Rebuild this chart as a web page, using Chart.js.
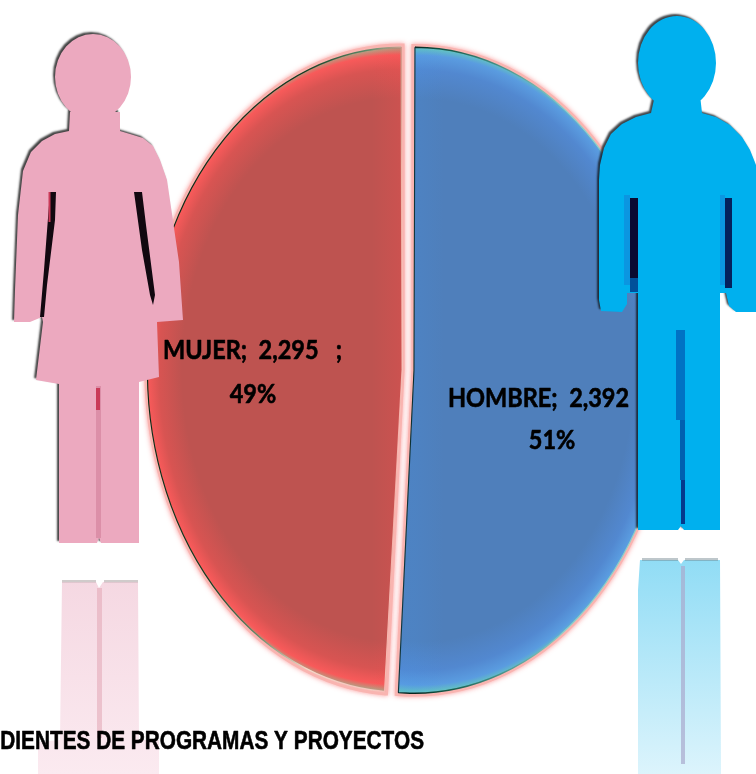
<!DOCTYPE html>
<html><head><meta charset="utf-8">
<style>html,body{margin:0;padding:0;background:#fff;overflow:hidden}canvas{display:block}</style>
<script src="https://cdn.jsdelivr.net/npm/chart.js@4"></script>
</head><body><canvas id="c" width="756" height="774"></canvas>
<script>
const categories = ['HOMBRE', 'MUJER'];
const values = [2392, 2295];
const valueLabels = ['2,392', '2,295'];
const percentLabels = ['51%', '49%'];
const captionText = 'DIENTES DE PROGRAMAS Y PROYECTOS';

const RX = 255, RY = 323, OFF = 32;
function radius(chart){ const a = chart.chartArea; return (Math.min(a.width, a.height) - OFF - 2) / 2; }
const ramps = [
  [[0,'#4f7fbb'],[0.84,'#4f7fbb'],[0.93,'#5288d0'],[0.975,'#5a9ce0'],[0.995,'#62c0c4'],[1,'#68c8b8']],
  [[0,'#be5350'],[0.84,'#be5350'],[0.93,'#d85452'],[0.975,'#f85a5a'],[0.993,'#b89a80'],[1,'#6a9a78']]
];
function sliceFill(ctx){
  const chart = ctx.chart, a = chart.chartArea, i = ctx.dataIndex;
  if (!a || i === undefined) return '#999';
  const R = radius(chart) + OFF/4, dir = i === 0 ? 1 : -1;
  const cx = (a.left + a.right)/2 + dir*OFF/4, cy = (a.top + a.bottom)/2;
  const g = chart.ctx.createRadialGradient(cx, cy, 0, cx, cy, R);
  ramps[i].forEach(s => g.addColorStop(s[0], s[1]));
  return g;
}
function sliceEdge(ctx){
  const chart = ctx.chart, a = chart.chartArea, i = ctx.dataIndex;
  if (!a || i === undefined) return '#264';
  const R = radius(chart) + OFF/4, cx=(a.left+a.right)/2, cy=(a.top+a.bottom)/2;
  const sx = RX/R, sy = RY/R;
  const px = (X)=>cx+(X-408)/sx, py=(Y)=>cy+(Y-370)/sy;
  let g;
  if (i === 1) {
    g = chart.ctx.createLinearGradient(px(200),py(170),px(430),py(240));
    g.addColorStop(0,'#0c2a16'); g.addColorStop(0.38,'#143c22'); g.addColorStop(0.62,'#5f8a68'); g.addColorStop(0.85,'#f2d9c8'); g.addColorStop(1,'#f6c9c0');
  } else {
    g = chart.ctx.createLinearGradient(px(412),0,px(560),0);
    g.addColorStop(0,'#06241c'); g.addColorStop(0.12,'#0e4a3a'); g.addColorStop(0.5,'#3f8a80'); g.addColorStop(1,'#8fd0c8');
  }
  return g;
}
function poly(c, pts){ c.moveTo(pts[0][0], pts[0][1]); for (let k=1;k<pts.length;k++) c.lineTo(pts[k][0], pts[k][1]); }
function arcPath(c, arc){
  const p = arc.getProps(['x','y','startAngle','endAngle','outerRadius']);
  const mid = (p.startAngle+p.endAngle)/2, o = OFF/4;
  const x = p.x+Math.cos(mid)*o, y = p.y+Math.sin(mid)*o;
  c.beginPath(); c.moveTo(x,y); c.arc(x,y,p.outerRadius+o,p.startAngle,p.endAngle); c.closePath();
  return {x,y,r:p.outerRadius+o};
}
function stretchText(c, text, x, y, sx){
  c.save(); c.translate(x,y); c.scale(sx,1);
  c.strokeStyle='#000'; c.lineWidth=0.6; c.lineJoin='round';
  c.strokeText(text,0,0); c.fillText(text,0,0); c.restore();
}

function drawWoman(c){
  c.save();
  c.shadowColor='rgba(20,20,20,.8)'; c.shadowOffsetX=-2; c.shadowOffsetY=-2; c.shadowBlur=2;
  c.fillStyle='#eca9bf';
  c.beginPath();
  c.ellipse(93,77,38,43,0,0,Math.PI*2,true); c.closePath();
  poly(c,[[70,112],[69,131],[55,134],[42,141],[31,152],[23,171],[18,215],[15,290],[14,322],[30,322],[42,317],[43,322],[36,380],[59,384],[59,543],[97,543],[99,538],[101,543],[139,543],[139,382],[159,377],[157,322],[183,320],[179,262],[167,180],[160,160],[153,146],[143,138],[130,134],[120,131],[120,112]]);
  c.closePath();
  c.fill();
  c.restore();
  // arm gaps
  c.fillStyle='#120810';
  c.beginPath(); poly(c,[[50,192],[56,192],[55,220],[47,285],[44,317],[40,317],[44,270]]); c.closePath(); c.fill();
  c.beginPath(); poly(c,[[134,192],[142,192],[146,225],[155,295],[153,305],[150,295],[142,250]]); c.closePath(); c.fill();
  c.fillStyle='#c93a58'; c.fillRect(48.5,192,2,30);
  // leg split
  c.fillStyle='#dc8fa8'; c.fillRect(96,386,5,152);
  c.fillStyle='#c93a58'; c.fillRect(96,388,4,22);
  // reflection
  const g=c.createLinearGradient(0,580,0,774);
  g.addColorStop(0,'#f5d8e2'); g.addColorStop(1,'#fbeaf0');
  c.fillStyle=g;
  c.beginPath(); poly(c,[[62,582],[96,582],[99,588],[103,582],[138,582],[139,740],[159,740],[159,774],[38,774],[38,742],[60,740]]); c.closePath(); c.fill();
  c.fillStyle='rgba(150,140,140,.45)'; c.fillRect(62,580,34,2.5); c.fillRect(104,580,34,2.5);
  c.fillStyle='rgba(225,165,180,.55)'; c.fillRect(97,588,5,150);
}
function drawMan(c){
  c.save();
  c.shadowColor='rgba(15,20,25,.8)'; c.shadowOffsetX=-2; c.shadowOffsetY=-2; c.shadowBlur=2;
  c.fillStyle='#00b0ee';
  c.beginPath();
  c.ellipse(677,63,39,47,0,0,Math.PI*2,true); c.closePath();
  poly(c,[[655,95],[651,113],[636,117],[622,124],[611,134],[604,148],[600,165],[599,180],[599,300],[601,311],[622,312],[627,304],[627,293],[638,293],[638,530],[678,530],[681,526],[684,530],[720,530],[720,293],[726,293],[729,306],[736,312],[756,312],[756,165],[750,150],[742,137],[730,125],[716,117],[702,113],[700,95]]);
  c.closePath();
  c.fill();
  c.restore();
  // arm gaps
  c.fillStyle='#0a0a30'; c.fillRect(630,198,8,80);
  c.fillStyle='#00509a'; c.fillRect(630,278,8,14);
  c.fillStyle='#04205c'; c.fillRect(725,198,7,90);
  c.fillStyle='rgba(20,130,215,.55)'; c.fillRect(624,195,6,90); c.fillRect(720,195,5,90);
  // leg split
  c.fillStyle='#0072c4'; c.fillRect(676,330,9,90);
  c.fillStyle='#0060b0'; c.fillRect(680,420,5,60);
  c.fillStyle='#04398c'; c.fillRect(681,480,4,44);
  // reflection
  const g=c.createLinearGradient(0,558,0,774);
  g.addColorStop(0,'#90dcf5'); g.addColorStop(1,'#dcf4fc');
  c.fillStyle=g;
  c.beginPath(); poly(c,[[640,560],[678,560],[681,564],[684,560],[720,560],[721,774],[638,774],[638,590]]); c.closePath(); c.fill();
  c.fillStyle='rgba(110,130,140,.45)'; c.fillRect(642,558,36,3); c.fillRect(685,558,33,3);
  c.fillStyle='rgba(170,170,205,.7)'; c.fillRect(681,566,4,198);
}

const stretch = {
  id:'stretch',
  beforeDatasetsDraw(chart){
    const c = chart.ctx, a = chart.chartArea, meta = chart.getDatasetMeta(0), arc = meta.data[0];
    const R = arc.outerRadius + OFF/4, cx=(a.left+a.right)/2, cy=(a.top+a.bottom)/2;
    c.save();
    c.translate(cx,cy); c.scale(RX/R, RY/R); c.translate(-cx,-cy);
    // pink halo round every slice
    c.save();
    c.shadowColor='rgba(250,140,140,.9)'; c.shadowBlur=5;
    c.strokeStyle='#f9b4b0'; c.lineWidth=7; c.lineJoin='miter';
    meta.data.forEach(el=>{ arcPath(c,el); c.stroke(); });
    c.restore();
  },
  afterDatasetsDraw(chart){
    const c = chart.ctx, meta = chart.getDatasetMeta(0);
    // soft brightening along the inner straight edges
    [[1,'rgba(240,80,80,',.28],[0,'rgba(70,150,235,',.16]].forEach(([i,col,al])=>{
      const el = meta.data[i]; c.save();
      const p = arcPath(c,el); c.clip();
      const e = i===1 ? p.x-40 : p.x+40;
      const g = c.createLinearGradient(p.x,0,e,0);
      g.addColorStop(0,col+al+')'); g.addColorStop(1,col+'0)');
      c.fillStyle=g;
      c.fillRect(Math.min(p.x,e)-40,p.y-p.r,Math.abs(e-p.x)+80,p.r*2);
      c.restore();
    });
    c.restore();
  },
  afterDraw(chart){
    const c = chart.ctx;
    drawWoman(c); drawMan(c);
    c.save();
    c.fillStyle='#000'; c.textBaseline='alphabetic'; c.textAlign='left';
    c.font='bold 27px Lato';
    stretchText(c, categories[1]+';  '+valueLabels[1]+'   ;', 163, 359, 0.87);
    stretchText(c, categories[0]+';  '+valueLabels[0], 448, 407, 0.87);
    c.textAlign='center';
    stretchText(c, percentLabels[1], 253, 403, 0.87);
    stretchText(c, percentLabels[0], 552, 449, 0.87);
    c.font='bold 26px "Liberation Sans"'; c.textAlign='right';
    stretchText(c, captionText, 424, 749, 0.8);
    c.restore();
  }
};

new Chart(document.getElementById('c'), {
  type:'pie',
  data:{ labels:categories, datasets:[{ data:values, backgroundColor:sliceFill, borderColor:sliceEdge, borderWidth:1.5, offset:OFF, hoverOffset:OFF }] },
  options:{ responsive:false, animation:false, rotation:0,
    layout:{ padding:{ left:60, right:0, top:0, bottom:34 } },
    plugins:{ legend:{display:false}, tooltip:{enabled:false} }, events:[] },
  plugins:[stretch]
});
</script></body></html>
